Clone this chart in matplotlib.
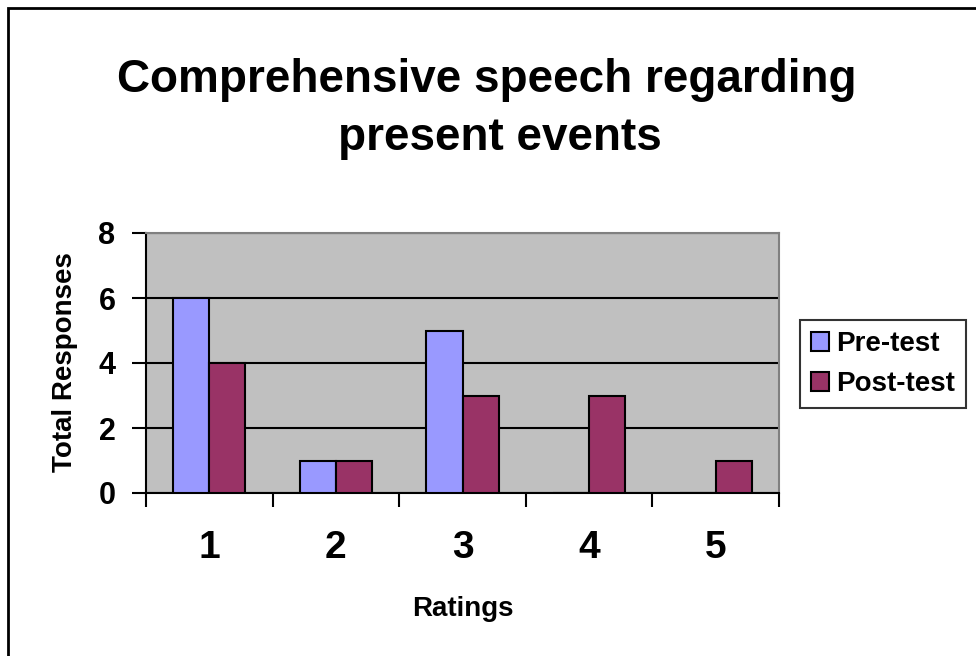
import numpy as np
import matplotlib.pyplot as plt
from matplotlib.patches import Rectangle

ratings = [1, 2, 3, 4, 5]
pre_test = [6, 1, 5, 0, 0]
post_test = [4, 1, 3, 3, 1]

plt.rcParams['font.family'] = ['Liberation Sans', 'DejaVu Sans']
plt.rcParams['font.weight'] = 'bold'

fig = plt.figure(figsize=(9.76, 6.56), dpi=100)
ax = fig.add_axes([146/976, 1 - 493/656, (779 - 146)/976, (493 - 233)/656])
ax.set_facecolor('#C0C0C0')

x = np.array(ratings)
w = 0.285
ax.bar(x - w/2, pre_test, w, color='#9999FF', edgecolor='black', linewidth=1.5, label='Pre-test', zorder=3)
ax.bar(x + w/2, post_test, w, color='#993366', edgecolor='black', linewidth=1.5, label='Post-test', zorder=3)

ax.set_xlim(0.5, 5.5)
ax.set_ylim(0, 8)
ax.set_yticks([0, 2, 4, 6, 8])
ax.yaxis.grid(True, color='black', linewidth=1.5, zorder=1)
ax.set_axisbelow(True)

# ticks between categories, labels at category centres
ax.set_xticks(np.arange(0.5, 6.0, 1.0))
ax.set_xticklabels([])
ax.set_xticks(x, minor=True)
ax.set_xticklabels([str(r) for r in ratings], minor=True, fontsize=28, fontweight='bold')
ax.tick_params(axis='x', which='major', direction='out', length=10, width=1.5)
ax.tick_params(axis='x', which='minor', length=0, pad=27)
ax.tick_params(axis='y', direction='out', length=10, width=1.5, labelsize=22, pad=12)

for s in ['left', 'bottom']:
    ax.spines[s].set_linewidth(1.5)
for s in ['top', 'right']:
    ax.spines[s].set_color('#808080')
    ax.spines[s].set_linewidth(1.5)

ax.set_ylabel('Total Responses', fontsize=20, fontweight='bold')
ax.yaxis.set_label_coords(-0.107, 0.504)
ax.set_xlabel('Ratings', fontsize=20, fontweight='bold')
ax.xaxis.set_label_coords(0.5, -0.395)

fig.text(487/976, 1 - 92/656, 'Comprehensive speech regarding', ha='center', va='baseline',
         fontsize=33, fontweight='bold')
fig.text(500/976, 1 - 150/656, 'present events', ha='center', va='baseline',
         fontsize=33, fontweight='bold')

leg = ax.legend(loc='upper left', bbox_to_anchor=(800/976, 1 - 320/656), bbox_transform=fig.transFigure,
                frameon=True, fancybox=False, edgecolor='black', fontsize=20,
                handlelength=0.65, handleheight=0.65, handletextpad=0.25, borderpad=0.4, labelspacing=0.5,
                borderaxespad=0)
leg.get_frame().set_linewidth(1.5)

fig.patches.append(Rectangle((8/976, -0.1), 1.2, 1 - 8/656 + 0.1, transform=fig.transFigure,
                             fill=False, edgecolor='black', linewidth=2))

fig.savefig('out.png', dpi=100)
